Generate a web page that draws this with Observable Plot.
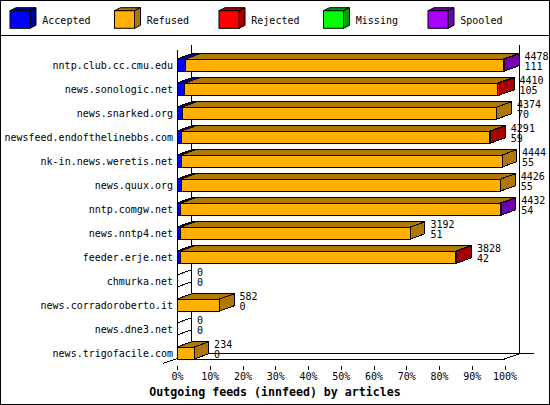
<!DOCTYPE html>
<html>
<head>
<meta charset="utf-8">
<script src="https://cdn.jsdelivr.net/npm/d3@7"></script>
<script src="https://cdn.jsdelivr.net/npm/@observablehq/plot@0.6"></script>
<style>
  html, body { margin: 0; padding: 0; background: #fff; }
  #wrap { width: 550px; height: 405px; box-sizing: border-box; border: 1px solid #000; background: #fff; position: relative; overflow: hidden; }
  #legend { height: 34px; border-bottom: 1px solid #000; }
  #legend svg, #chart svg { display: block; }
  #caption { font-family: "DejaVu Sans Mono", monospace; font-weight: bold; font-size: 11.6px; text-align: center; line-height: 14px; padding-top: 1px; color: #000; }
</style>
</head>
<body>
<div id="wrap">
  <div id="legend"></div>
  <div id="chart"></div>
  <div id="caption"></div>
</div>
<script>
// ---- data ----
const categories = [
  "nntp.club.cc.cmu.edu", "news.sonologic.net", "news.snarked.org",
  "newsfeed.endofthelinebbs.com", "nk-in.news.weretis.net", "news.quux.org",
  "nntp.comgw.net", "news.nntp4.net", "feeder.erje.net", "chmurka.net",
  "news.corradoroberto.it", "news.dne3.net", "news.trigofacile.com"
];
const seriesNames = ["Accepted", "Refused", "Rejected", "Missing", "Spooled"];
const totals   = [4478, 4410, 4374, 4291, 4444, 4426, 4432, 3192, 3828, 0, 582, 0, 234];
const accepted = [111, 105, 70, 59, 55, 55, 54, 51, 42, 0, 0, 0, 0];
const refused  = [4352, 4280, 4304, 4220, 4389, 4371, 4366, 3141, 3771, 0, 582, 0, 234];
const rejected = [0, 25, 0, 12, 0, 0, 0, 0, 15, 0, 0, 0, 0];
const missing  = [0, 0, 0, 0, 0, 0, 0, 0, 0, 0, 0, 0, 0];
const spooled  = [15, 0, 0, 0, 0, 0, 12, 0, 0, 0, 0, 0, 0];
const xTicks = [0, 10, 20, 30, 40, 50, 60, 70, 80, 90, 100];
const frontColors = ["#0000ff", "#ffb000", "#ff0000", "#00ff00", "#aa00ff"];
const darkColors  = ["#0000a0", "#b07800", "#a80000", "#00a000", "#7000b0"];
const title = "Outgoing feeds (innfeed) by articles";

// ---- style constants ----
const DX = 14.5, DY = 5.2;
const FONT = "DejaVu Sans Mono";

// ---- build stacked segments ----
const seriesValues = [accepted, refused, rejected, missing, spooled];
const maxTotal = d3.max(totals);
const segs = [];
categories.forEach((name, i) => {
  let acc = 0;
  const rowSegs = [];
  seriesValues.forEach((vals, k) => {
    const v = vals[i];
    if (v > 0) {
      const p = v / maxTotal * 100;
      rowSegs.push({name, series: seriesNames[k], k, x1: acc, x2: acc + p});
      acc += p;
    }
  });
  if (rowSegs.length) rowSegs[rowSegs.length - 1].last = true;
  segs.push(...rowSegs);
});
const rows = categories.map((name, i) => ({name, pct: totals[i] / maxTotal * 100, top: String(totals[i]), bottom: String(accepted[i]), zero: totals[i] === 0}));

// ---- legend ----
const leg = d3.select("#legend").append("svg").attr("width", 548).attr("height", 34);
seriesNames.forEach((s, i) => {
  const x = 9 + i * 104.5;
  const g = leg.append("g").attr("stroke", "#000").attr("stroke-width", 1);
  g.append("path").attr("d", `M${x},9.7L${x + 6},6.7L${x + 26},6.7L${x + 20},9.7Z`).attr("fill", darkColors[i]);
  g.append("path").attr("d", `M${x + 20},9.7L${x + 26},6.7L${x + 26},24.3L${x + 20},27.3Z`).attr("fill", darkColors[i]);
  g.append("rect").attr("x", x).attr("y", 9.7).attr("width", 20).attr("height", 17.6).attr("fill", frontColors[i]);
  leg.append("text").attr("x", x + 32.3).attr("y", 23).attr("font-family", FONT).attr("font-size", 10).attr("fill", "#000").text(s);
});

// ---- function marks using Plot's scales ----
function frameMark(index, scales) {
  const {x, y} = scales;
  const bw = y.bandwidth();
  const x0 = x(0), x1 = x(100);
  const yTop = y(categories[0]) - 9;
  const yBot = y(categories[categories.length - 1]) + bw;
  const g = d3.create("svg:g").attr("stroke", "#000").attr("fill", "none").attr("stroke-width", 1);
  const line = (a, b, c, d) => g.append("line").attr("x1", a).attr("y1", b).attr("x2", c).attr("y2", d);
  line(x0 + DX, yTop - DY, x0 + DX, yBot - DY);
  line(x1 + DX, yTop - DY, x1 + DX, yBot - DY);
  line(x0 + DX, yBot - DY, x1 + DX + 15, yBot - DY);
  line(x0 - DX, yBot + DY * 0.85, x0 + DX, yBot - DY);
  line(x1, yBot, x1 + DX, yBot - DY);
  line(x0, yTop, x0, yBot);
  line(x0, yBot, x1, yBot);
  return g.node();
}
function facesMark(index, scales) {
  const {x, y} = scales;
  const bw = y.bandwidth();
  const g = d3.create("svg:g").attr("stroke", "#000").attr("stroke-width", 1);
  for (const s of segs) {
    const xa = x(s.x1), xb = x(s.x2), yt = y(s.name), yb = yt + bw;
    g.append("path").attr("fill", darkColors[s.k])
      .attr("d", `M${xa},${yt}L${xb},${yt}L${xb + DX},${yt - DY}L${xa + DX},${yt - DY}Z`);
    if (s.last) {
      g.append("path").attr("fill", darkColors[s.k])
        .attr("d", `M${xb},${yt}L${xb + DX},${yt - DY}L${xb + DX},${yb - DY}L${xb},${yb}Z`);
    }
  }
  for (const r of rows) {
    if (!r.zero) continue;
    const xa = x(0), yt = y(r.name), yb = yt + bw;
    g.append("path").attr("fill", "none")
      .attr("d", `M${xa},${yt}L${xa + DX},${yt - DY}M${xa},${yb}L${xa + DX},${yb - DY}`);
  }
  return g.node();
}

const plot = Plot.plot({
  width: 548,
  height: 348,
  marginLeft: 176,
  marginRight: 44.5,
  marginTop: 17.3,
  marginBottom: 18.3,
  style: {fontFamily: FONT, fontSize: "10px", background: "#fff", color: "#000", overflow: "visible", shapeRendering: "crispEdges"},
  x: {domain: [0, 100]},
  y: {domain: categories, paddingInner: 0.5, paddingOuter: 0, align: 0.5},
  color: {domain: seriesNames, range: frontColors},
  marks: [
    frameMark,
    facesMark,
    Plot.barX(segs, {x1: "x1", x2: "x2", y: "name", fill: "series", stroke: "#000", strokeWidth: 1}),
    Plot.axisY({tickSize: 0, tickPadding: 4.5, fontSize: 10, label: null}),
    Plot.axisX({ticks: xTicks, tickFormat: d => d + "%", tickSize: 4.3, tickPadding: 2, fontSize: 10, label: null}),
    Plot.text(rows, {x: "pct", y: "name", text: "top", textAnchor: "start", dx: DX + 5, dy: -8.7, fill: "#000", fontSize: 10}),
    Plot.text(rows, {x: "pct", y: "name", text: "bottom", textAnchor: "start", dx: DX + 5, dy: 1.2, fill: "#000", fontSize: 10})
  ]
});
document.getElementById("chart").appendChild(plot);
document.getElementById("caption").textContent = title;
</script>
</body>
</html>
